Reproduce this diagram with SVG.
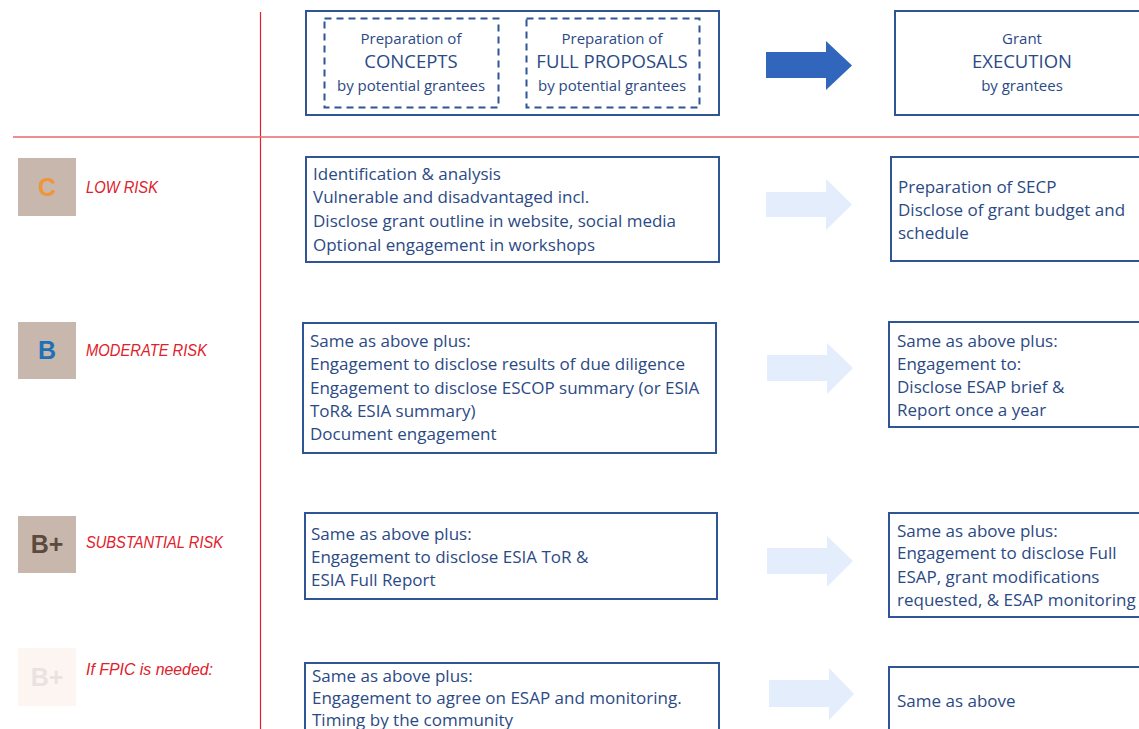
<svg xmlns="http://www.w3.org/2000/svg" width="1139" height="729" viewBox="0 0 1139 729">
<style>
.box{fill:#fff;stroke:#2F5597;stroke-width:2}
.dash{fill:none;stroke:#2F5597;stroke-width:2;stroke-dasharray:7,5}
.t{font-family:"Open Sans","Liberation Sans",Arial,sans-serif;font-size:17px;fill:#2B4A85}
.h{font-family:"Open Sans","Liberation Sans",Arial,sans-serif;font-size:15px;fill:#2B4A85;text-anchor:middle}
.hb{font-family:"Open Sans","Liberation Sans",Arial,sans-serif;font-size:18.5px;fill:#2B4A85;text-anchor:middle}
.risk{font-family:"Liberation Sans",Arial,sans-serif;font-size:17px;font-style:italic;fill:#E0202A}
.badge{font-family:"Liberation Sans",Arial,sans-serif;font-size:25px;font-weight:bold;text-anchor:middle}
.la{fill:#E3EDFC}
</style>
<g id="grid">
<line x1="260.5" y1="12" x2="260.5" y2="729" stroke="#E0202A" stroke-width="1.2"/>
<line x1="13" y1="137" x2="1139" y2="137" stroke="#EE6670" stroke-width="1.5"/>
</g>
<g id="header-prep">
<rect class="box" x="306" y="11" width="413" height="104"/>
<rect class="dash" x="324.5" y="18.5" width="174" height="89"/>
<rect class="dash" x="526.5" y="18.5" width="173" height="89"/>
<text class="h" x="411" y="44">Preparation of</text>
<text class="hb" x="411" y="68">CONCEPTS</text>
<text class="h" x="411" y="91">by potential grantees</text>
<text class="h" x="612" y="44">Preparation of</text>
<text class="hb" x="612" y="68">FULL PROPOSALS</text>
<text class="h" x="612" y="91">by potential grantees</text>
</g>
<g id="header-exec">
<rect class="box" x="895" y="11" width="260" height="104"/>
<text class="h" x="1022" y="44">Grant</text>
<text class="hb" x="1022" y="68">EXECUTION</text>
<text class="h" x="1022" y="91">by grantees</text>
</g>
<g id="connectors">
<polygon fill="#3266BC" points="766,52 826,52 826,41 852,65.5 826,90 826,78 766,78"/>
<polygon class="la" points="766,192 826,192 826,179 852,204.5 826,230 826,217 766,217"/>
<polygon class="la" points="767,355 827,355 827,343 853,368 827,394 827,381 767,381"/>
<polygon class="la" points="767,548 827,548 827,536 853,561 827,587 827,574 767,574"/>
<polygon class="la" points="769,680 829,680 829,668 854,694 829,720 829,707 769,707"/>
</g>
<g id="row-c">
<rect x="18" y="158" width="58" height="58" fill="#C8B7AC"/>
<text class="badge" x="47" y="196" fill="#F0953A">C</text>
<text class="risk" x="86" y="193" textLength="72" lengthAdjust="spacingAndGlyphs">LOW RISK</text>
</g>
<g id="row-c-concept">
<rect class="box" x="306" y="157" width="413" height="105"/>
<text class="t" x="313" y="180">Identification &amp; analysis</text>
<text class="t" x="313" y="203">Vulnerable and disadvantaged incl.</text>
<text class="t" x="313" y="227">Disclose grant outline in website, social media</text>
<text class="t" x="313" y="251">Optional engagement in workshops</text>
</g>
<g id="row-c-exec">
<rect class="box" x="891" y="157" width="260" height="104"/>
<text class="t" x="898" y="193">Preparation of SECP</text>
<text class="t" x="898" y="216">Disclose of grant budget and</text>
<text class="t" x="898" y="239">schedule</text>
</g>
<g id="row-b">
<rect x="18" y="322" width="58" height="57" fill="#C8B7AC"/>
<text class="badge" x="47" y="359" fill="#1F70B5">B</text>
<text class="risk" x="86" y="356" textLength="121" lengthAdjust="spacingAndGlyphs">MODERATE RISK</text>
</g>
<g id="row-b-concept">
<rect class="box" x="303" y="323" width="413" height="130"/>
<text class="t" x="310" y="347">Same as above plus:</text>
<text class="t" x="310" y="370">Engagement to disclose results of due diligence</text>
<text class="t" x="310" y="394">Engagement to disclose ESCOP summary (or ESIA</text>
<text class="t" x="310" y="417">ToR&amp;  ESIA summary)</text>
<text class="t" x="310" y="440">Document engagement</text>
</g>
<g id="row-b-exec">
<rect class="box" x="889" y="322" width="262" height="105"/>
<text class="t" x="897" y="347">Same as above plus:</text>
<text class="t" x="897" y="370">Engagement to:</text>
<text class="t" x="897" y="393">Disclose ESAP brief &amp;</text>
<text class="t" x="897" y="416">Report once a year</text>
</g>
<g id="row-bplus">
<rect x="18" y="516" width="58" height="57" fill="#C8B7AC"/>
<text class="badge" x="47" y="553" fill="#5C4A40">B+</text>
<text class="risk" x="86" y="548" textLength="137" lengthAdjust="spacingAndGlyphs">SUBSTANTIAL RISK</text>
</g>
<g id="row-bplus-concept">
<rect class="box" x="305" y="513" width="412" height="86"/>
<text class="t" x="311" y="540">Same as above plus:</text>
<text class="t" x="311" y="563">Engagement to disclose ESIA ToR &amp;</text>
<text class="t" x="311" y="586">ESIA Full Report</text>
</g>
<g id="row-bplus-exec">
<rect class="box" x="889" y="513" width="262" height="104"/>
<text class="t" x="897" y="537">Same as above plus:</text>
<text class="t" x="897" y="559">Engagement to disclose Full</text>
<text class="t" x="897" y="583">ESAP, grant modifications</text>
<text class="t" x="897" y="606">requested, &amp; ESAP monitoring</text>
</g>
<g id="row-fpic">
<rect x="18" y="648" width="58" height="58" fill="#FDF5F2"/>
<text class="badge" x="47" y="686" fill="#E8E3E1">B+</text>
<text class="risk" x="86" y="675" textLength="127" lengthAdjust="spacingAndGlyphs">If FPIC is needed:</text>
</g>
<g id="row-fpic-concept">
<rect class="box" x="305" y="663" width="414" height="80"/>
<text class="t" x="312" y="682">Same as above plus:</text>
<text class="t" x="312" y="704">Engagement to agree on ESAP and monitoring.</text>
<text class="t" x="312" y="726">Timing by the community</text>
</g>
<g id="row-fpic-exec">
<rect class="box" x="889" y="667" width="262" height="80"/>
<text class="t" x="897" y="707">Same as above</text>
</g>
</svg>
